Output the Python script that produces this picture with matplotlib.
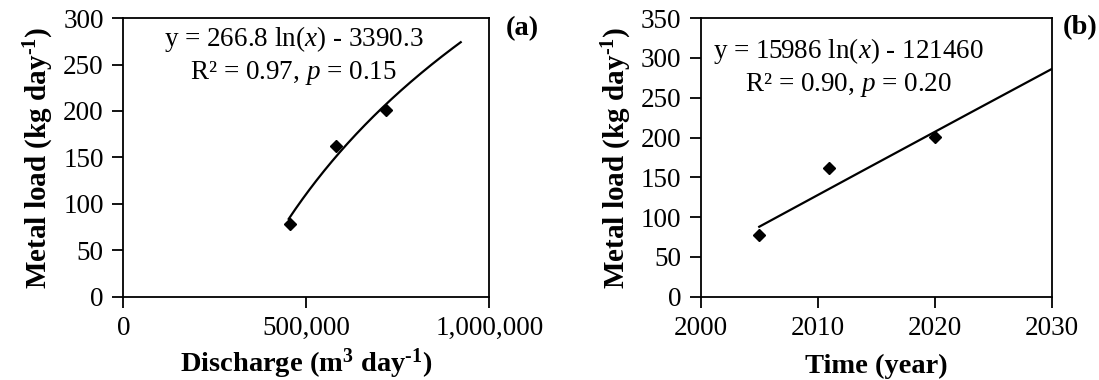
import numpy as np
import matplotlib
matplotlib.use("Agg")
import matplotlib.pyplot as plt
from matplotlib.ticker import FuncFormatter

plt.rcParams["font.family"] = ["Liberation Serif", "DejaVu Serif"]
plt.rcParams["mathtext.fontset"] = "custom"
plt.rcParams["mathtext.rm"] = "Liberation Serif"
plt.rcParams["mathtext.it"] = "Liberation Serif:italic"
plt.rcParams["mathtext.bf"] = "Liberation Serif:bold"

# panel (a): metal load vs discharge
discharge = [455000, 580000, 718000]
load_a = [78, 162, 201]
fit_a_coef = (266.8, -3390.3)
fit_a_range = (452000, 922000)

# panel (b): metal load vs year
years = [2005, 2011, 2020]
load_b = [78, 162, 201]
fit_b_coef = (15986, -121460)
fit_b_range = (2005, 2030)

FS = 19.5
XLFS = 20.5
YLFS = 21

HY = "\u2010"  # hyphen used as superscript minus, like the source
Y_LABEL = r"Metal load (kg day$^{\mathbf{" + HY + r"1}}$)"

fig = plt.figure(figsize=(10.99, 3.80), dpi=100)
ax1 = fig.add_axes([0.1122, 0.219, 0.333, 0.7335])
ax2 = fig.add_axes([0.6376, 0.219, 0.3194, 0.7335])


def style(ax):
    for s in ax.spines.values():
        s.set_linewidth(1.3)
        s.set_color("black")
    ax.tick_params(direction="out", length=8, width=1.3, labelsize=FS, pad=6)


# (a)
xa = np.linspace(fit_a_range[0], fit_a_range[1], 200)
ax1.plot(xa, fit_a_coef[0] * np.log(xa) + fit_a_coef[1], color="black", lw=1.6)
ax1.plot(discharge, load_a, "D", color="black", ms=6.5)
ax1.set_xlim(0, 1000000)
ax1.set_ylim(0, 300)
ax1.set_xticks([0, 500000, 1000000])
ax1.set_yticks(np.arange(0, 301, 50))
ax1.xaxis.set_major_formatter(FuncFormatter(lambda v, p: f"{v:,.0f}"))
ax1.set_xlabel(r"Discharge (m$^{\mathbf{3}}$ day$^{\mathbf{" + HY + r"1}}$)",
               fontsize=XLFS, fontweight="bold", labelpad=4)
ax1.set_ylabel(Y_LABEL, fontsize=YLFS, fontweight="bold", labelpad=5)
ax1.text(0.465, 0.977, r"y = 266.8 ln($x$) - 3390.3", transform=ax1.transAxes,
         ha="center", va="top", fontsize=FS)
ax1.text(0.465, 0.852, r"R² = 0.97, $p$ = 0.15", transform=ax1.transAxes,
         ha="center", va="top", fontsize=FS)
ax1.text(1.045, 1.008, "(a)", transform=ax1.transAxes, ha="left", va="top",
         fontsize=XLFS, fontweight="bold")
style(ax1)

# (b)
xb = np.linspace(fit_b_range[0], fit_b_range[1], 200)
ax2.plot(xb, fit_b_coef[0] * np.log(xb) + fit_b_coef[1], color="black", lw=1.6)
ax2.plot(years, load_b, "D", color="black", ms=6.5)
ax2.set_xlim(2000, 2030)
ax2.set_ylim(0, 350)
ax2.set_xticks([2000, 2010, 2020, 2030])
ax2.set_yticks(np.arange(0, 351, 50))
ax2.set_xlabel("Time (year)", fontsize=XLFS, fontweight="bold", labelpad=9)
ax2.set_ylabel(Y_LABEL, fontsize=YLFS, fontweight="bold", labelpad=5)
ax2.text(0.42, 0.935, r"y = 15986 ln($x$) - 121460", transform=ax2.transAxes,
         ha="center", va="top", fontsize=FS)
ax2.text(0.42, 0.81, r"R² = 0.90, $p$ = 0.20", transform=ax2.transAxes,
         ha="center", va="top", fontsize=FS)
ax2.text(1.03, 1.01, "(b)", transform=ax2.transAxes, ha="left", va="top",
         fontsize=XLFS, fontweight="bold")
style(ax2)

fig.savefig("out.png", dpi=100)
